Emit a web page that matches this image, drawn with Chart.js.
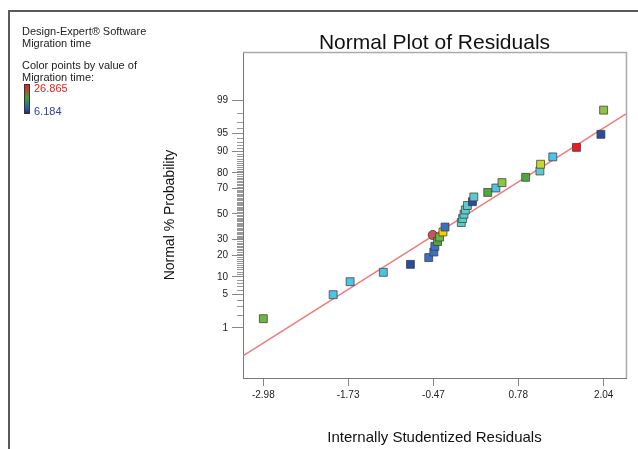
<!DOCTYPE html>
<html>
<head>
<meta charset="utf-8">
<script src="https://cdn.jsdelivr.net/npm/chart.js@4.4.1/dist/chart.umd.min.js"></script>
<style>
  html, body { margin: 0; padding: 0; background: #fff; }
  body { width: 638px; height: 449px; position: relative; overflow: hidden;
         font-family: "Liberation Sans", Arial, sans-serif; color: #222; }
  #frame { position: absolute; left: 8px; top: 10px; width: 700px; height: 500px;
           border-left: 2px solid #5a5a5a; border-top: 2px solid #5a5a5a; box-sizing: border-box; }
  canvas { position: absolute; left: 0; top: 0; }
  .t { position: absolute; white-space: nowrap; }
  #info { left: 22px; top: 25px; font-size: 11px; line-height: 12px; }
  #info2 { left: 22px; top: 59px; font-size: 11px; line-height: 12px; }
  #hi { left: 34px; top: 82px; font-size: 11px; line-height: 12px; color: #e8201c; }
  #lo { left: 34px; top: 105px; font-size: 11px; line-height: 12px; color: #3040a0; }
  #bar { position: absolute; left: 24px; top: 84px; width: 6px; height: 30px;
         border: 1px solid #333; box-sizing: border-box;
         background: linear-gradient(#e81c1c, #4a9a3a 45%, #2e8a5a 62%, #2a56b4 85%, #1c2a80); }
  #title { left: 234px; width: 401px; text-align: center; top: 31px; font-size: 21px; line-height: 21px; color: #111; }
</style>
</head>
<body>
<div id="frame"></div>
<canvas id="c" width="638" height="449"></canvas>
<div class="t" id="info">Design-Expert® Software<br>Migration time</div>
<div class="t" id="info2">Color points by value of<br>Migration time:</div>
<div id="bar"></div>
<div class="t" id="hi">26.865</div>
<div class="t" id="lo">6.184</div>
<div class="t" id="title">Normal Plot of Residuals</div>
<script>
// ---------------- data ----------------
const residuals = [-2.98, -1.95, -1.70, -1.21, -0.81, -0.54, -0.465, -0.45, -0.41, -0.38,
                   -0.33, -0.30, -0.06, -0.04, -0.02, 0.00, 0.03, 0.105, 0.125, 0.33,
                   0.45, 0.54, 0.89, 1.10, 1.11, 1.29, 1.64, 2.00, 2.04];
const normalPercent = [1.63, 4.98, 8.35, 11.7, 15.2, 18.7, 21.9, 25.5, 28.7, 31.9,
                       35.7, 39.5, 43.1, 46.3, 49.8, 53.3, 56.9, 59.9, 63.6, 67.0,
                       70.2, 73.9, 77.3, 81.0, 84.5, 87.8, 91.3, 94.8, 98.3];
const migrationTime = [17.3, 11.35, 11.35, 11.35, 6.8, 8.25, 8.25, 8.3, 16.1, 17.3,
                       23.14, 8.2, 12.8, 12.8, 12.8, 12.8, 12.8, 6.8, 12.8, 16.1,
                       11.35, 18.59, 16.1, 12.8, 21.07, 11.35, 26.865, 6.8, 18.59];
const circleResidual = [-0.48];
const circlePercent = [33.4];
const fitResidual = [-3.28, 2.37];
const fitPercent = [0.188, 97.95];
const residualTicks = [-2.98, -1.73, -0.47, 0.78, 2.04];
const percentTicks = [1, 5, 10, 20, 30, 50, 70, 80, 90, 95, 99];
const colorMin = 6.184, colorMax = 26.865;

// ---------------- helpers ----------------
function probit(p) {
  const a=[-3.969683028665376e+01,2.209460984245205e+02,-2.759285104469687e+02,1.383577518672690e+02,-3.066479806614716e+01,2.506628277459239e+00];
  const b=[-5.447609879822406e+01,1.615858368580409e+02,-1.556989798598866e+02,6.680131188771972e+01,-1.328068155288572e+01];
  const c=[-7.784894002430293e-03,-3.223964580411365e-01,-2.400758277161838e+00,-2.549732539343734e+00,4.374664141464968e+00,2.938163982698783e+00];
  const d=[7.784695709041462e-03,3.224671290700398e-01,2.445134137142996e+00,3.754408661907416e+00];
  const pl = 0.02425, ph = 1 - pl; let q, r;
  if (p < pl) { q = Math.sqrt(-2*Math.log(p)); return (((((c[0]*q+c[1])*q+c[2])*q+c[3])*q+c[4])*q+c[5])/((((d[0]*q+d[1])*q+d[2])*q+d[3])*q+1); }
  if (p > ph) { q = Math.sqrt(-2*Math.log(1-p)); return -(((((c[0]*q+c[1])*q+c[2])*q+c[3])*q+c[4])*q+c[5])/((((d[0]*q+d[1])*q+d[2])*q+d[3])*q+1); }
  q = p - 0.5; r = q*q;
  return (((((a[0]*r+a[1])*r+a[2])*r+a[3])*r+a[4])*r+a[5])*q/(((((b[0]*r+b[1])*r+b[2])*r+b[3])*r+b[4])*r+1);
}
const stops = [[0.00,'#22378f'],[0.03,'#2c4a9e'],[0.10,'#3a6fc4'],[0.25,'#4dc3e8'],[0.32,'#5ccbcc'],
               [0.48,'#4ea93c'],[0.60,'#8cc63f'],[0.72,'#c6d62a'],[0.82,'#f5d000'],[1.00,'#ed1c24']];
function hex(h){ return [parseInt(h.slice(1,3),16),parseInt(h.slice(3,5),16),parseInt(h.slice(5,7),16)]; }
function colorFor(v) {
  const t = Math.max(0, Math.min(1, (v - colorMin) / (colorMax - colorMin)));
  for (let i = 1; i < stops.length; i++) {
    if (t <= stops[i][0]) {
      const [t0,c0] = stops[i-1], [t1,c1] = stops[i];
      const f = (t - t0) / (t1 - t0), A = hex(c0), B = hex(c1);
      return 'rgb(' + A.map((x,k)=>Math.round(x + (B[k]-x)*f)).join(',') + ')';
    }
  }
  return stops[stops.length-1][1];
}

const minorTicks = {
  id: 'minorTicks',
  afterDraw(chart) {
    const {ctx, chartArea: ca, scales: {y}} = chart;
    ctx.save();
    ctx.strokeStyle = '#999';
    ctx.lineWidth = 1;
    for (let p = 1; p <= 99; p++) {
      if (percentTicks.includes(p)) continue;
      const py = Math.round(y.getPixelForValue(probit(p/100))) + 0.5;
      ctx.beginPath(); ctx.moveTo(ca.left - 6, py); ctx.lineTo(ca.left, py); ctx.stroke();
    }
    // top and right frame of the plot
    ctx.strokeStyle = '#aaa';
    ctx.lineWidth = 1.5;
    ctx.beginPath();
    ctx.moveTo(ca.left, ca.top + 0.5); ctx.lineTo(ca.right + 0.5, ca.top + 0.5); ctx.lineTo(ca.right + 0.5, ca.bottom);
    ctx.stroke();
    ctx.restore();
  }
};

Chart.defaults.font.family = "'Liberation Sans', Arial, sans-serif";
Chart.defaults.color = '#222';

new Chart(document.getElementById('c'), {
  type: 'scatter',
  data: {
    datasets: [
      {
        data: residuals.map((r, i) => ({x: r, y: probit(normalPercent[i] / 100)})),
        pointStyle: 'rect',
        pointRadius: 5.6,
        backgroundColor: ctx => colorFor(migrationTime[ctx.dataIndex]),
        borderColor: 'rgba(60,60,60,0.75)',
        borderWidth: 1,
        order: 1
      },
      {
        data: circleResidual.map((r, i) => ({x: r, y: probit(circlePercent[i] / 100)})),
        pointStyle: 'circle',
        pointRadius: 4.6,
        backgroundColor: '#c65656',
        borderColor: 'rgba(70,50,50,0.8)',
        borderWidth: 1,
        order: 2
      },
      {
        type: 'line',
        data: fitResidual.map((r, i) => ({x: r, y: probit(fitPercent[i] / 100)})),
        borderColor: '#f27a7a',
        borderWidth: 1.5,
        pointRadius: 0,
        fill: false,
        order: 3
      }
    ]
  },
  options: {
    responsive: false,
    animation: false,
    devicePixelRatio: 1,
    layout: { padding: { left: 160, top: 52, right: 12, bottom: 0 } },
    plugins: { legend: { display: false }, tooltip: { enabled: false }, title: { display: false } },
    scales: {
      x: {
        type: 'linear',
        min: -3.28, max: 2.37,
        afterFit: s => { s.height = 71; },
        afterBuildTicks: s => { s.ticks = residualTicks.map(v => ({value: v})); },
        ticks: { autoSkip: false, padding: 3, font: { size: 10 }, color: '#222',
                 callback: (v, i) => residualTicks[i].toFixed(2) },
        grid: { drawOnChartArea: false, drawTicks: true, tickLength: 8, color: '#888' },
        border: { color: '#777', width: 1 },
        title: { display: true, text: 'Internally Studentized Residuals', font: { size: 15 }, color: '#111',
                 padding: { top: 0, bottom: 2 } }
      },
      y: {
        type: 'linear',
        min: -3.347, max: 3.306,
        afterFit: s => { s.width = 83; },
        afterBuildTicks: s => { s.ticks = percentTicks.map(p => ({value: probit(p / 100)})); },
        ticks: { autoSkip: false, padding: 4, font: { size: 10 }, color: '#222',
                 callback: (v, i) => String(percentTicks[i]) },
        grid: { drawOnChartArea: false, drawTicks: true, tickLength: 11, color: '#888' },
        border: { color: '#777', width: 1 },
        title: { display: true, text: 'Normal % Probability', font: { size: 14 }, color: '#111',
                 padding: { top: 2, bottom: 0 } }
      }
    }
  },
  plugins: [minorTicks]
});
</script>
</body>
</html>
